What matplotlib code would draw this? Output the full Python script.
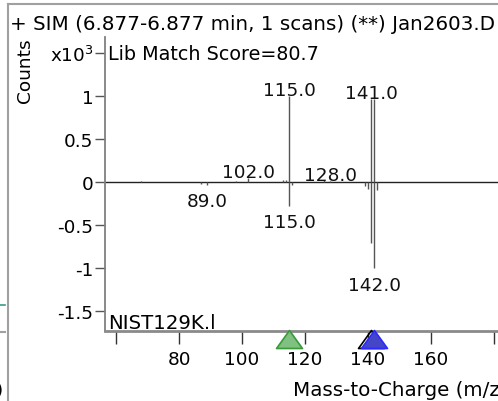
import matplotlib
matplotlib.use("Agg")
import matplotlib.pyplot as plt
from matplotlib.path import Path
from matplotlib.lines import Line2D
import matplotlib.transforms as mtransforms

plt.rcParams['font.family'] = ['DejaVu Sans']

# ---- data (values in x10^3 counts) ----
sample_mz = [68, 98, 102, 113, 114, 115, 126, 128, 141, 142]
sample_int = [0.01, 0.01, 0.05, 0.02, 0.02, 1.0, 0.02, 0.01, 0.965, 0.965]
lib_mz = [87, 89, 116, 139, 140, 141, 142, 143, 115]
lib_int = [-0.02, -0.03, -0.03, -0.05, -0.08, -0.71, -1.0, -0.09, -0.276]
sample_labels = [102, 115, 128, 141]
lib_labels = [89, 115, 142]
xticks = [60, 80, 100, 120, 140, 160, 180]
xticklabels = ['', '80', '100', '120', '140', '160', '']
yticks = [-1.5, -1, -0.5, 0, 0.5, 1, 1.5]
yticklabels = ['-1.5', '-1', '-0.5', '0', '0.5', '1', r'x10$^3$']
title = "+ SIM (6.877-6.877 min, 1 scans) (**) Jan2603.D"
score_text = "Lib Match Score=80.7"
lib_name = "NIST129K.l"
marker_mz = [(141, 'none', 'black'), (142, '#4545c8', '#2a2aff')]
green_mz = 115

W, H = 498, 402
FS = 13.3
fig = plt.figure(figsize=(W / 100, H / 100), dpi=100)
fig.patch.set_facecolor('white')

def fx(px):
    return px / W

def fy(py):
    return 1 - py / H

ax_left, ax_right, ax_top, ax_bot = 105, 498, 38, 332
ax = fig.add_axes([fx(ax_left), fy(ax_bot), fx(ax_right - ax_left), (ax_bot - ax_top) / H])
ax.set_xlim(56.5, 181.3)
ax.set_ylim(-1.733, 1.686)
ax.set_facecolor('none')

for s in ['top', 'right']:
    ax.spines[s].set_visible(False)
ax.spines['left'].set_color('#808080')
ax.spines['left'].set_linewidth(1.3)
ax.spines['bottom'].set_color('#8a8a8a')
ax.spines['bottom'].set_linewidth(2.0)

ax.set_yticks(yticks)
ax.set_yticklabels(yticklabels)
ax.set_xticks(xticks)
ax.set_xticklabels(xticklabels)
ax.tick_params(axis='y', direction='out', length=7.2, width=1, color='#555555',
               labelsize=FS, pad=1)
ax.tick_params(axis='x', direction='out', length=9.4, width=1, color='#333333',
               labelsize=FS, pad=4.5)

# zero line
ax.axhline(0, color='#222222', lw=1.0, zorder=2)

# peaks
ax.vlines(sample_mz, 0, sample_int, color='#555555', lw=1.0, zorder=3)
ax.vlines(lib_mz, 0, lib_int, color='#555555', lw=1.0, zorder=3)

smap = dict(zip(sample_mz, sample_int))
lmap = dict(zip(lib_mz, lib_int))
for m in sample_labels:
    ax.annotate(f"{m:.1f}", (m, smap[m]), xytext=(0, 0.5), textcoords='offset points',
                ha='center', va='baseline', fontsize=FS, color='#111111')
for m in lib_labels:
    ax.annotate(f"{m:.1f}", (m, lmap[m]), xytext=(0, -5.5), textcoords='offset points',
                ha='center', va='top', fontsize=FS, color='#111111')

# triangles under axis
tri = Path([(-13, -9), (13, -9), (0, 9), (-13, -9)],
           [Path.MOVETO, Path.LINETO, Path.LINETO, Path.CLOSEPOLY])
trans = mtransforms.blended_transform_factory(ax.transData, ax.transAxes)
ty = (ax_bot - 340) / (ax_bot - ax_top)
ax.plot([green_mz], [ty], marker=tri, markersize=18.7, markerfacecolor='#80c080',
        markeredgecolor='#3a9a3a', markeredgewidth=1.2, transform=trans, clip_on=False,
        linestyle='none', zorder=5)
for m, fc, ec in marker_mz:
    ax.plot([m], [ty], marker=tri, markersize=18.7, markerfacecolor=fc,
            markeredgecolor=ec, markeredgewidth=1.2, transform=trans, clip_on=False,
            linestyle='none', zorder=5)

# labels
ax.set_ylabel("Counts", fontsize=FS)
ax.yaxis.set_label_coords((25 - ax_left) / (ax_right - ax_left), (ax_bot - 70.5) / (ax_bot - ax_top))
ax.yaxis.label.set_va('center')
ax.set_xlabel("Mass-to-Charge (m/z)", fontsize=14.3, ha='left')
ax.xaxis.set_label_coords((293 - ax_left) / (ax_right - ax_left), -(396 - ax_bot) / (ax_bot - ax_top))
ax.xaxis.label.set_va('baseline')

fig.text(fx(10), fy(30), title, fontsize=14.3, va='baseline', ha='left')
fig.text(fx(108), fy(59.5), score_text, fontsize=13.75, va='baseline', ha='left')
fig.text(fx(108), fy(329), lib_name, fontsize=14.2, va='baseline', ha='left')

# window frame bits
fig.add_artist(Line2D([fx(8), fx(8)], [fy(5), fy(402)], color='#a0a0a0', lw=1.5))
fig.add_artist(Line2D([fx(8), fx(498)], [fy(5), fy(5)], color='#a0a0a0', lw=1.5))
fig.add_artist(Line2D([fx(0), fx(5)], [fy(306), fy(306)], color='#3a9a8a', lw=1.2))
fig.add_artist(Line2D([fx(0), fx(5)], [fy(333), fy(333)], color='#a0a0a0', lw=1.5))
fig.text(fx(-4), fy(396), ")", fontsize=FS, va='baseline', ha='left')

fig.savefig("out.png", dpi=100, facecolor='white')
